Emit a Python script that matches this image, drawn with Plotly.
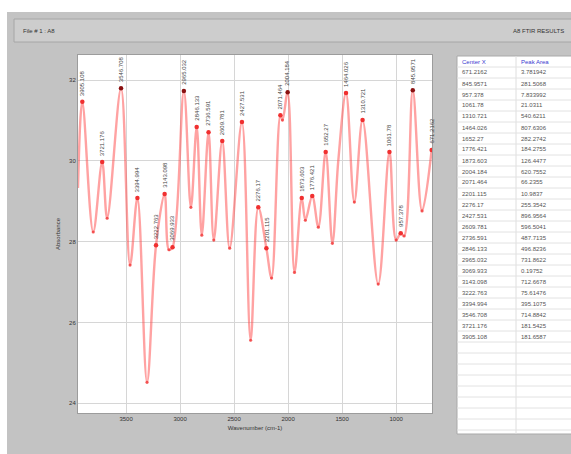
import plotly.graph_objects as go

# ---- spectrum data -------------------------------------------------------
# fitted peak centres (cm-1) with the absorbance at each peak top
peak_centers = [3905.108, 3721.176, 3546.708, 3394.994, 3222.763, 3143.098,
                3069.933, 2965.032, 2846.133, 2736.591, 2609.781, 2427.531,
                2276.17, 2201.115, 2071.464, 2004.184, 1873.603, 1776.421,
                1652.27, 1464.026, 1310.721, 1061.78, 957.378, 845.9571,
                671.2162]
peak_abs = [31.46, 29.97, 31.80, 29.08, 27.91, 29.18,
            27.86, 31.73, 30.84, 30.71, 30.49, 30.96,
            28.85, 27.84, 31.13, 31.70, 29.08, 29.13,
            30.22, 31.68, 31.01, 30.22, 28.21, 31.75,
            30.27]
# peak areas reported by the fit, in order of increasing centre
area_centers = [671.2162, 845.9571, 957.378, 1061.78, 1310.721, 1464.026,
                1652.27, 1776.421, 1873.603, 2004.184, 2071.464, 2201.115,
                2276.17, 2427.531, 2609.781, 2736.591, 2846.133, 2965.032,
                3069.933, 3143.098, 3222.763, 3394.994, 3546.708, 3721.176,
                3905.108]
peak_areas = [3.781942, 281.5068, 7.833992, 21.0311, 540.6211, 807.6306,
              282.2742, 184.2755, 126.4477, 620.7552, 66.2355, 10.9837,
              255.3542, 896.9564, 596.5041, 487.7135, 496.8236, 731.8622,
              0.19752, 712.6678, 75.61476, 395.1075, 714.8842, 181.5425,
              181.6587]
table_headers = ["Center X", "Peak Area"]
# selected (highlighted) peaks
selected_peaks = [3546.708, 2965.032, 2004.184, 845.9571]

# minima between peaks
valley_wn = [3804, 3675, 3463, 3306, 3103, 2900, 2799, 2688, 2541, 2347,
             2153, 2052, 1941, 1840, 1720, 1590, 1387, 1166, 1000, 926, 760]
valley_abs = [28.24, 28.58, 27.42, 24.52, 27.80, 28.85, 28.16, 28.04, 27.84,
              25.56, 27.10, 31.01, 27.24, 28.53, 28.36, 27.96, 28.98, 26.95,
              28.04, 28.14, 28.76]
# other points along the trace (spectrum start, slope knee)
edge_wn = [3945, 1535]
edge_abs = [29.33, 30.02]

x_ticks = [3500, 3000, 2500, 2000, 1500, 1000]
y_ticks = [24, 26, 28, 30, 32]

# ---- build the trace (merge all points, ordered by wavenumber) ----------
pts = sorted(zip(peak_centers + valley_wn + edge_wn,
                 peak_abs + valley_abs + edge_abs),
             key=lambda p: -p[0])
trace_x = [p[0] for p in pts]
trace_y = [p[1] for p in pts]

W, H = 571, 454


def fx(px):
    return px / W


def fy(py):
    return 1 - py / H


fig = go.Figure()

fig.add_trace(go.Scatter(
    x=trace_x, y=trace_y, mode="lines",
    line=dict(color="rgba(255,70,70,0.5)", width=2.4, shape="spline",
              smoothing=1.0),
    hoverinfo="skip", showlegend=False))
fig.add_trace(go.Scatter(
    x=valley_wn, y=valley_abs, mode="markers",
    marker=dict(color="rgba(240,40,40,0.7)", size=3.2),
    hoverinfo="skip", showlegend=False))
fig.add_trace(go.Scatter(
    x=peak_centers, y=peak_abs, mode="markers",
    marker=dict(color=["#8a1010" if c in selected_peaks else "#f03030"
                       for c in peak_centers], size=4.5),
    showlegend=False))

# vertical peak labels above each peak
for c, a in zip(peak_centers, peak_abs):
    fig.add_annotation(x=c, y=a, text=str(c), textangle=-90, showarrow=False,
                       xanchor="center", yanchor="bottom", yshift=4,
                       font=dict(size=6, color="#444"))

shapes = [
    # white border strips around the window
    dict(type="rect", xref="paper", yref="paper", x0=0, x1=1,
         y0=fy(12), y1=1, fillcolor="white", line_width=0, layer="below"),
    dict(type="rect", xref="paper", yref="paper", x0=0, x1=fx(7),
         y0=0, y1=1, fillcolor="white", line_width=0, layer="below"),
    # title bar
    dict(type="rect", xref="paper", yref="paper", x0=fx(14), x1=1.02,
         y0=fy(42), y1=fy(19), fillcolor="#cdcdcd",
         line=dict(color="#a6a6a6", width=1), layer="below"),
]

# ---- peak table on the right ---------------------------------------------
tbl_left, tbl_top, tbl_bottom, col_split, row_h = 457, 56, 434, 516, 11
shapes.append(dict(type="rect", xref="paper", yref="paper",
                   x0=fx(tbl_left), x1=1.02, y0=fy(tbl_bottom), y1=fy(tbl_top),
                   fillcolor="white", line=dict(color="#a9a9a9", width=1),
                   layer="below"))
shapes.append(dict(type="line", xref="paper", yref="paper",
                   x0=fx(col_split), x1=fx(col_split),
                   y0=fy(tbl_bottom), y1=fy(tbl_top),
                   line=dict(color="#dedede", width=1)))
k = 1
while tbl_top + k * row_h < tbl_bottom:
    yy = tbl_top + k * row_h
    shapes.append(dict(type="line", xref="paper", yref="paper",
                       x0=fx(tbl_left), x1=1.0, y0=fy(yy), y1=fy(yy),
                       line=dict(color="#e2e2e2", width=1)))
    k += 1

col_x = [tbl_left + 3, col_split + 3]
for j, h in enumerate(table_headers):
    fig.add_annotation(xref="paper", yref="paper", x=fx(col_x[j]),
                       y=fy(tbl_top + row_h / 2), text=h, showarrow=False,
                       xanchor="left", yanchor="middle",
                       font=dict(size=6, color="#3a3ad0"))
for i, (c, a) in enumerate(zip(area_centers, peak_areas)):
    yy = tbl_top + row_h * (i + 1.5)
    for j, v in enumerate((c, a)):
        fig.add_annotation(xref="paper", yref="paper", x=fx(col_x[j]),
                           y=fy(yy), text=str(v), showarrow=False,
                           xanchor="left", yanchor="middle",
                           font=dict(size=6, color="#555"))

fig.add_annotation(xref="paper", yref="paper", x=fx(21), y=fy(31),
                   text="File # 1 : A8", showarrow=False, xanchor="left",
                   yanchor="middle", font=dict(size=6, color="#333"))
fig.add_annotation(xref="paper", yref="paper", x=fx(566), y=fy(31),
                   text="A8 FTIR RESULTS", showarrow=False, xanchor="right",
                   yanchor="middle", font=dict(size=6, color="#333"))

fig.update_layout(
    width=W, height=H,
    margin=dict(l=0, r=0, t=0, b=0),
    paper_bgcolor="#c3c3c3",
    plot_bgcolor="white",
    font=dict(family="Liberation Sans", size=6, color="#333"),
    shapes=shapes,
    xaxis=dict(domain=[fx(78), fx(432)], range=[3945, 668],
               tickvals=x_ticks, ticktext=[str(t) for t in x_ticks],
               showgrid=True, gridcolor="#d6d6d6", gridwidth=1,
               zeroline=False, showline=True, mirror=True,
               linecolor="#9c9c9c", linewidth=1, ticks="",
               tickfont=dict(size=6, color="#333"),
               title=dict(text="Wavenumber (cm-1)", standoff=4,
                          font=dict(size=6, color="#333"))),
    yaxis=dict(domain=[fy(413), fy(55)], range=[23.76, 32.62],
               tickvals=y_ticks, ticktext=[str(t) for t in y_ticks],
               showgrid=True, gridcolor="#d6d6d6", gridwidth=1,
               zeroline=False, showline=True, mirror=True,
               linecolor="#9c9c9c", linewidth=1, ticks="",
               tickfont=dict(size=6, color="#333"),
               title=dict(text="Absorbance", standoff=8,
                          font=dict(size=6, color="#333"))),
)

fig.write_html("out.html")
